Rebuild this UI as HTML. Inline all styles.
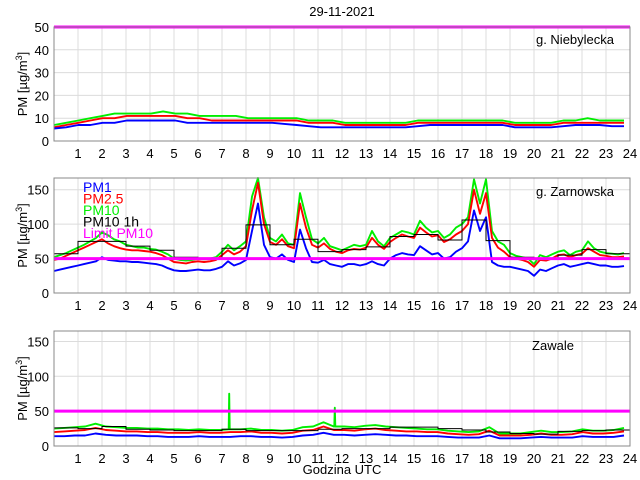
<!DOCTYPE html>
<html><head><meta charset="utf-8"><style>
body{margin:0;background:#fff}
svg{display:block;font-family:"Liberation Sans",sans-serif}
</style></head><body>
<svg id="chart" width="640" height="480"></svg>
<script>
const hours=[1,2,3,4,5,6,7,8,9,10,11,12,13,14,15,16,17,18,19,20,21,22,23,24];
const limitPM10=50;
// Panel 1: g. Niebylecka (half-hourly)
const p1PM10=[7,8,9,10,11,12,12,12,12,13,12,12,11,11,11,11,10,10,10,10,10,9,9,9,8,8,8,8,8,8,9,9,9,9,9,9,9,9,8,8,8,8,9,9,10,9,9,9];
const p1PM25=[6,7,8,9,10,10,11,11,11,11,11,10,10,9,9,9,9,9,9,9,9,8,8,8,7,7,7,7,7,7,8,8,8,8,8,8,8,8,7,7,7,7,8,8,8,8,8,8];
const p1PM1=[5.5,6,7,7,8,8,9,9,9,9,9,8,8,8,8,8,8,8,8,7.5,7,6.5,6,6,6,6,6,6,6,6,6.5,7,7,7,7,7,7,7,6,6,6,6,6.5,7,7,7,6.5,6.5];
const p1Hourly=[8,10,11,12,12,11,10,10,9,8,8,8,8,9,9,9,9,9,8,8,8,8,9,9];
// Panel 2: g. Zarnowska (quarter-hourly)
const p2PM10=[52,55,58,62,66,70,75,80,88,84,78,75,70,68,66,66,64,63,60,56,50,48,47,48,50,49,50,52,60,70,62,68,75,140,168,110,80,75,85,72,70,145,110,78,72,80,68,65,62,66,70,68,70,90,75,68,80,85,90,88,85,105,95,88,90,80,85,95,100,110,165,130,165,90,75,70,58,54,52,50,42,55,52,56,60,62,55,60,62,75,65,60,58,57,56,58];
const p2PM25=[48,50,54,58,62,66,70,74,78,72,68,65,63,62,62,61,60,58,55,50,45,44,43,45,46,45,46,48,55,62,56,60,68,120,160,100,74,70,78,68,65,130,95,70,66,72,64,60,58,62,64,63,66,80,70,64,74,80,85,82,80,95,88,82,84,74,78,85,90,100,150,115,145,80,66,60,52,50,48,45,38,48,47,50,55,56,52,55,57,65,60,55,54,52,52,53];
const p2PM1=[32,34,36,38,40,42,44,46,52,48,47,46,46,45,45,44,43,42,40,36,33,32,32,33,34,33,33,35,38,46,40,43,48,90,130,70,52,50,56,48,45,92,65,45,44,48,42,40,38,42,42,40,42,46,42,40,50,55,58,56,55,68,62,56,58,50,52,60,65,75,120,90,110,45,40,38,38,36,34,32,25,34,32,36,40,42,38,40,42,44,42,40,40,38,38,39];
const p2Hourly=[57,75,75,68,62,52,50,65,99,70,78,60,63,67,82,85,77,106,76,52,50,55,63,57];
// Panel 3: Zawale (half-hourly)
const p3PM10=[25,26,27,28,32,28,27,26,26,25,25,24,24,23,24,23,23,24,24,25,23,23,22,23,27,28,34,28,28,27,29,30,28,27,26,25,24,24,22,21,20,21,27,18,18,18,20,22,20,20,21,24,22,22,23,26];
const p3PM25=[20,21,22,23,26,23,22,21,21,20,20,19,19,19,20,19,19,20,20,21,19,19,18,19,22,23,28,23,23,22,24,25,23,22,21,21,20,20,18,17,16,17,22,15,15,15,16,18,16,16,17,20,18,18,19,21];
const p3PM1=[14,14,15,15,18,16,15,15,15,14,14,13,13,13,14,13,13,13,14,14,13,13,12,13,15,16,19,16,16,15,16,17,16,15,15,14,14,14,13,12,12,12,15,11,11,11,12,13,12,12,12,14,13,13,13,15];
const p3Hourly=[26,25,28,24,23,22,22,24,22,22,22,24,25,25,27,27,25,23,20,18,17,21,22,23];
const p3SpikeT=[7.3,11.7];
const p3SpikeV=[75,55];

const svg=document.getElementById('chart');
const NS='http://www.w3.org/2000/svg';
function mk(tag,attrs,parent){const e=document.createElementNS(NS,tag);for(const k in attrs)e.setAttribute(k,attrs[k]);(parent||svg).appendChild(e);return e;}
const X0=54,X1=630;
function xs(t){return X0+(X1-X0)*t/24;}

const panels=[
 {name:'niebylecka',top:27,bot:141,ymax:50,yticks:[0,10,20,30,40,50],label:'g. Niebylecka',lx:575,ly:44,d10:p1PM10,d25:p1PM25,d1:p1PM1,hr:p1Hourly,hrShow:false},
 {name:'zarnowska',top:178,bot:293,ymax:167,yticks:[0,50,100,150],label:'g. Zarnowska',lx:575,ly:196,d10:p2PM10,d25:p2PM25,d1:p2PM1,hr:p2Hourly,hrShow:true},
 {name:'zawale',top:331,bot:446,ymax:165,yticks:[0,50,100,150],label:'Zawale',lx:553,ly:350,d10:p3PM10,d25:p3PM25,d1:p3PM1,hr:p3Hourly,hrShow:true}
];
panels.forEach((p,pi)=>{
 const g=mk('g',{});
 
 
 const ys=v=>p.bot-(p.bot-p.top)*Math.min(v,p.ymax)/p.ymax;
 hours.forEach(h=>{mk('line',{x1:xs(h),x2:xs(h),y1:p.top,y2:p.bot,stroke:'#dcdcdc','stroke-width':1},g);});
 p.yticks.forEach(v=>{mk('line',{x1:X0,x2:X1,y1:ys(v),y2:ys(v),stroke:'#dcdcdc','stroke-width':1},g);});
 function line(arr,col,nm,extraT,extraV){
  const n=arr.length;let pts=arr.map((v,i)=>[xs(23.75*i/(n-1)),ys(v)]);
  if(extraT){extraT.forEach((t,k)=>{const x=xs(t);const b=ys(arr[Math.round(t/23.75*(n-1))]);pts.push([x-0.5,b],[x,ys(extraV[k])],[x+0.5,b]);});pts.sort((a,b)=>a[0]-b[0]);}
  const pl=mk('polyline',{points:pts.map(q=>q[0].toFixed(1)+','+q[1].toFixed(1)).join(' '),fill:'none',stroke:col,'stroke-width':1.9,'stroke-linejoin':'round'},g);
  
  
 }
 line(p.d10,'#00ee00','pm10-line',pi==2?p3SpikeT:null,p3SpikeV);
 line(p.d25,'#ff0000','pm25-line');
 line(p.d1,'#0000ff','pm1-line');
 if(p.hrShow){
  let d='';p.hr.forEach((v,i)=>{d+=(i==0?'M':'L')+xs(i)+','+ys(v)+'L'+xs(i+1)+','+ys(v);});
  const s=mk('path',{d:d,fill:'none',stroke:'#000','stroke-width':1},g);
  
  
 }
 const lim=mk('line',{x1:X0,x2:X1,y1:ys(limitPM10),y2:ys(limitPM10),stroke:'#ff00ff','stroke-width':3},g);
 
 
 mk('rect',{x:X0,y:p.top,width:X1-X0,height:p.bot-p.top,fill:'none',stroke:'#888','stroke-width':1},g);
 p.yticks.forEach(v=>{const t=mk('text',{x:X0-5,y:ys(v)+5,'text-anchor':'end','font-size':13},g);t.textContent=v;
  });
 hours.forEach(h=>{const t=mk('text',{x:xs(h),y:p.bot+17,'text-anchor':'middle','font-size':13},g);t.textContent=h;
  });
 const yl=mk('text',{transform:'translate(27,'+((p.top+p.bot)/2)+') rotate(-90)','text-anchor':'middle','font-size':13},g);
 yl.innerHTML='PM [µg/m<tspan dy="-5" font-size="9">3</tspan><tspan dy="5">]</tspan>';
 
 const lb=mk('text',{x:p.lx,y:p.ly,'text-anchor':'middle','font-size':13},g);lb.textContent=p.label;
 
});
const leg=[['PM1','#0000ff'],['PM2.5','#ff0000'],['PM10','#00ee00'],['PM10 1h','#000'],['Limit PM10','#ff00ff']];
leg.forEach((l,i)=>{const t=mk('text',{x:83,y:192+i*11.5,'font-size':14,fill:l[1]});t.textContent=l[0];
 });
const ti=mk('text',{x:342,y:16,'text-anchor':'middle','font-size':13});ti.textContent='29-11-2021';

const xt=mk('text',{x:342,y:474,'text-anchor':'middle','font-size':13});xt.textContent='Godzina UTC';

</script>
</body></html>
